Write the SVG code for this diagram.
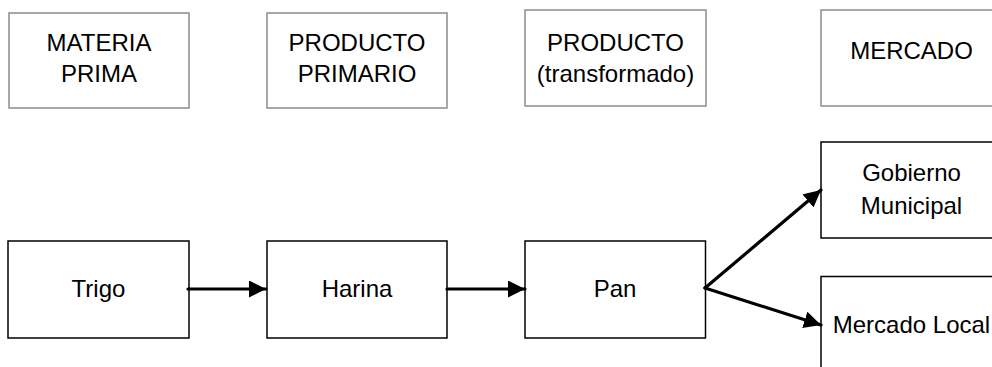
<svg xmlns="http://www.w3.org/2000/svg" width="992" height="367" viewBox="0 0 992 367">
<style>
  .hdr { fill: #ffffff; stroke: #8c8c8c; stroke-width: 1.5; }
  .box { fill: #ffffff; stroke: #000000; stroke-width: 1.5; }
  text { font-family: "Liberation Sans", Arial, sans-serif; font-size: 24px; fill: #000000; text-anchor: middle; }
  .conn { stroke: #000000; stroke-width: 3.2; fill: none; stroke-linecap: round; marker-end: url(#arrow); }
</style>
<defs>
  <marker id="arrow" markerUnits="userSpaceOnUse" markerWidth="19" markerHeight="19" refX="17" refY="8.5" orient="auto">
    <path d="M0,0 L17,8.5 L0,17 z" fill="#000000"/>
  </marker>
</defs>
<rect width="992" height="367" fill="#ffffff"/>
<g id="materia-prima">
  <rect class="hdr" x="9" y="13" width="180" height="95"/>
  <text x="99" y="51">MATERIA</text>
  <text x="99" y="82">PRIMA</text>
</g>
<g id="producto-primario">
  <rect class="hdr" x="267" y="13" width="180" height="95"/>
  <text x="357" y="51">PRODUCTO</text>
  <text x="357" y="82">PRIMARIO</text>
</g>
<g id="producto-transformado">
  <rect class="hdr" x="525" y="10" width="181" height="96"/>
  <text x="615.5" y="51">PRODUCTO</text>
  <text x="615.5" y="82">(transformado)</text>
</g>
<g id="mercado">
  <rect class="hdr" x="821" y="10" width="181" height="96"/>
  <text x="911.5" y="59">MERCADO</text>
</g>
<g id="trigo">
  <rect class="box" x="8" y="241" width="181" height="97"/>
  <text x="98.5" y="297">Trigo</text>
</g>
<g id="harina">
  <rect class="box" x="267" y="241" width="180" height="97"/>
  <text x="357" y="297">Harina</text>
</g>
<g id="pan">
  <rect class="box" x="525" y="241" width="180.5" height="97"/>
  <text x="615" y="297">Pan</text>
</g>
<g id="gobierno-municipal">
  <rect class="box" x="821" y="142" width="181" height="96"/>
  <text x="911.5" y="181">Gobierno</text>
  <text x="911.5" y="213.5">Municipal</text>
</g>
<g id="mercado-local">
  <rect class="box" x="821" y="276.5" width="181" height="100"/>
  <text x="911.5" y="333">Mercado Local</text>
</g>
<g id="connectors">
  <line class="conn" x1="188" y1="289" x2="266" y2="289"/>
  <line class="conn" x1="447" y1="289" x2="525" y2="289"/>
  <line class="conn" x1="705" y1="288" x2="821" y2="190"/>
  <line class="conn" x1="705" y1="288" x2="821" y2="325"/>
</g>
</svg>
